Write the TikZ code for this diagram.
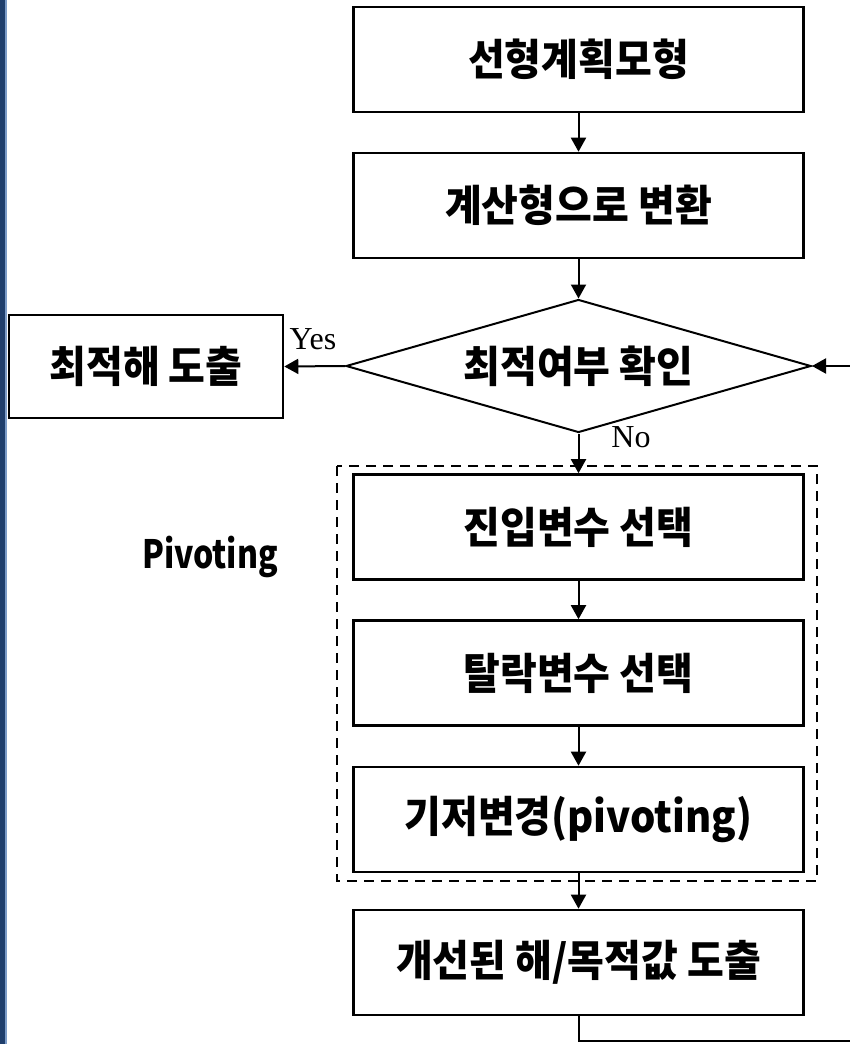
\documentclass[tikz,border=0pt]{standalone}
\usepackage{fontspec}
\setmainfont{Noto Sans CJK KR}[FakeStretch=0.93]
\newfontfamily\narrowLabel{Noto Sans CJK KR}[FakeStretch=0.82]
\newfontfamily\serifLabel{Liberation Serif}
\usepackage{tikz}
\usetikzlibrary{arrows.meta,shapes.geometric}
\definecolor{bandNavy}{HTML}{1F3E6C}
\definecolor{bandLight}{HTML}{7C9CC8}

\begin{document}
\begin{tikzpicture}[x=0.5pt,y=-0.5pt,
  stepbox/.style={draw,line width=1.3pt,minimum width=225pt,minimum height=52.5pt,inner sep=0pt,
    font=\bfseries\fontsize{21.5}{23}\selectfont},
  decision/.style={draw,diamond,line width=1pt,aspect=3.5,inner sep=0pt,minimum width=232.5pt,
    minimum height=66.5pt,font=\bfseries\fontsize{21.5}{23}\selectfont},
  tag/.style={font=\serifLabel\fontsize{16}{18}\selectfont,inner sep=0pt},
  flow/.style={line width=1pt,-{Triangle[width=7.5pt,length=7pt]}},
  group/.style={line width=1pt,dash pattern=on 5pt off 3.5pt}]
\useasboundingbox (0,0) rectangle (850,1044);
% left band
\fill[bandNavy] (0,0) rectangle (5,1044);
\fill[bandLight] (5,0) rectangle (6.5,1044);
\node[stepbox] (model) at (578.5,59.5) {선형계획모형};
\node[stepbox] (conv) at (578.5,205.5) {계산형으로 변환};
\node[decision] (check) at (578.5,366) {최적여부 확인};
\node[stepbox,minimum width=137pt,minimum height=51.5pt] (opt) at (146,366.5) {최적해 도출};
\node[stepbox] (enter) at (578.5,527) {진입변수 선택};
\node[stepbox] (leave) at (578.5,673) {탈락변수 선택};
\node[stepbox] (pivot) at (578.5,819.5) {기저변경(pivoting)};
\node[stepbox] (improve) at (578.5,962.5) {개선된 해/목적값 도출};
% pivoting group
\draw[group] (337,466) rectangle (817,881);
\node[font=\narrowLabel\bfseries\fontsize{19.5}{21}\selectfont] (pivlabel) at (210,557) {Pivoting};
\node[tag] (yes) at (313,339) {Yes};
\node[tag] (no) at (631,437) {No};
\draw[flow] (model) -- (conv);
\draw[flow] (conv) -- (check);
\draw[flow] (check.west) -- (opt.east);
\draw[flow] (check.south) -- (enter.north);
\draw[flow] (enter) -- (leave);
\draw[flow] (leave) -- (pivot);
\draw[flow] (pivot) -- (improve);
% loop back
\coordinate (low) at (866,1041);
\coordinate (back) at (866,366);
\draw[flow] (improve.south) |- (low) -- (back) -- (check.east);
\end{tikzpicture}
\end{document}
